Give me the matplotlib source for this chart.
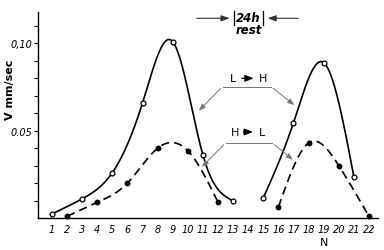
import numpy as np
import matplotlib
matplotlib.use("Agg")
import matplotlib.pyplot as plt

# Data
lh_n1 = [1, 3, 5, 7, 9, 11, 13]
lh_v1 = [0.0023, 0.011, 0.026, 0.066, 0.101, 0.036, 0.0098]
lh_n2 = [15, 17, 19, 21]
lh_v2 = [0.0115, 0.0546, 0.089, 0.0236]
hl_n1 = [2, 4, 6, 8, 10, 12]
hl_v1 = [0.001, 0.009, 0.020, 0.040, 0.0385, 0.009]
hl_n2 = [16, 18, 20, 22]
hl_v2 = [0.0063, 0.043, 0.030, 0.001]
x_ticks = list(range(1, 23))
y_ticks = [0.01, 0.02, 0.03, 0.04, 0.05, 0.06, 0.07, 0.08, 0.09, 0.10, 0.11]
y_labels = {0.05: "0.05", 0.10: "0,10"}


def natural_spline(x, y, num=200):
    x = np.asarray(x, float)
    y = np.asarray(y, float)
    n = len(x)
    h = np.diff(x)
    A = np.zeros((n, n))
    b = np.zeros(n)
    A[0, 0] = 1
    A[-1, -1] = 1
    for i in range(1, n - 1):
        A[i, i - 1] = h[i - 1]
        A[i, i] = 2 * (h[i - 1] + h[i])
        A[i, i + 1] = h[i]
        b[i] = 3 * ((y[i + 1] - y[i]) / h[i] - (y[i] - y[i - 1]) / h[i - 1])
    c = np.linalg.solve(A, b)
    xs = np.linspace(x[0], x[-1], num)
    idx = np.clip(np.searchsorted(x, xs) - 1, 0, n - 2)
    dx = xs - x[idx]
    bb = (y[idx + 1] - y[idx]) / h[idx] - h[idx] * (2 * c[idx] + c[idx + 1]) / 3
    dd = (c[idx + 1] - c[idx]) / (3 * h[idx])
    ys = y[idx] + bb * dx + c[idx] * dx ** 2 + dd * dx ** 3
    return xs, ys


fig = plt.figure(figsize=(3.84, 2.51), dpi=100)
ax = fig.add_axes([38 / 384, 32 / 251, 340 / 384, 206 / 251])
ax.set_xlim(0.07, 22.6)
ax.set_ylim(0, 0.118)

for n, v in [(lh_n1, lh_v1), (lh_n2, lh_v2)]:
    xs, ys = natural_spline(n, v)
    ax.plot(xs, ys, color="black", lw=1.2, solid_capstyle="round", clip_on=False)
    ax.plot(n, v, "o", ms=3.5, mfc="white", mec="black", mew=0.9, clip_on=False, zorder=3)
for n, v in [(hl_n1, hl_v1), (hl_n2, hl_v2)]:
    xs, ys = natural_spline(n, v)
    ax.plot(xs, ys, color="black", lw=1.2, ls=(0, (5, 3)), clip_on=False)
    ax.plot(n, v, "o", ms=3.2, color="black", clip_on=False, zorder=3)

ax.spines["top"].set_visible(False)
ax.spines["right"].set_visible(False)
ax.spines["left"].set_linewidth(1.0)
ax.spines["bottom"].set_linewidth(1.0)

ax.set_xticks(x_ticks)
ax.set_xticklabels([str(t) for t in x_ticks], fontstyle="italic", fontsize=7)
ax.tick_params(axis="x", length=0, pad=4)
ax.set_yticks(y_ticks)
ax.set_yticklabels([y_labels.get(round(t, 2), "") for t in y_ticks],
                   fontstyle="italic", fontsize=7)
ax.tick_params(axis="y", length=3, width=0.8, pad=1)

ax.text(19.0, -0.0137, "N", ha="center", va="center", fontsize=8)
fig.text(10 / 384, 1 - 90 / 251, "V mm/sec", rotation=90, ha="center", va="center",
         fontsize=8, fontweight="bold")

# annotations
gray = "#777777"
ax.text(13.0, 0.0800, "L", ha="center", va="center", fontsize=8)
ax.text(15.0, 0.0800, "H", ha="center", va="center", fontsize=8)
ax.annotate("", xy=(14.55, 0.0800), xytext=(13.4, 0.0800),
            arrowprops=dict(arrowstyle="-|>,head_length=0.5,head_width=0.2", color="black", lw=1.0))
ax.plot([12.3, 15.5], [0.0753, 0.0753], color=gray, lw=0.7)
ax.annotate("", xy=(10.6, 0.0603), xytext=(12.3, 0.0753),
            arrowprops=dict(arrowstyle="-|>,head_length=0.4,head_width=0.15", color=gray, lw=0.7))
ax.annotate("", xy=(17.2, 0.0637), xytext=(15.5, 0.0753),
            arrowprops=dict(arrowstyle="-|>,head_length=0.4,head_width=0.15", color=gray, lw=0.7))

ax.text(13.1, 0.0493, "H", ha="center", va="center", fontsize=8)
ax.text(14.9, 0.0493, "L", ha="center", va="center", fontsize=8)
ax.annotate("", xy=(14.5, 0.0493), xytext=(13.5, 0.0493),
            arrowprops=dict(arrowstyle="-|>,head_length=0.5,head_width=0.2", color="black", lw=1.0))
ax.plot([12.5, 15.6], [0.0430, 0.0430], color=gray, lw=0.7)
ax.annotate("", xy=(10.8, 0.0282), xytext=(12.5, 0.0430),
            arrowprops=dict(arrowstyle="-|>,head_length=0.4,head_width=0.15", color=gray, lw=0.7))
ax.annotate("", xy=(17.1, 0.0323), xytext=(15.6, 0.0430),
            arrowprops=dict(arrowstyle="-|>,head_length=0.4,head_width=0.15", color=gray, lw=0.7))

# 24h rest
yr = 0.1144
ax.plot([13.05, 13.05], [0.1105, 0.1185], color="black", lw=0.9, clip_on=False)
ax.plot([15.0, 15.0], [0.1105, 0.1185], color="black", lw=0.9, clip_on=False)
ax.annotate("", xy=(12.95, yr), xytext=(10.4, yr),
            arrowprops=dict(arrowstyle="-|>,head_length=0.5,head_width=0.18", color="#333333", lw=0.8),
            annotation_clip=False)
ax.annotate("", xy=(15.1, yr), xytext=(17.5, yr),
            arrowprops=dict(arrowstyle="-|>,head_length=0.5,head_width=0.18", color="#333333", lw=0.8),
            annotation_clip=False)
ax.text(14.02, 0.1150, "24h", ha="center", va="center", fontsize=8.5, fontstyle="italic", fontweight="bold")
ax.text(14.02, 0.1078, "rest", ha="center", va="center", fontsize=8.5, fontstyle="italic", fontweight="bold")

fig.savefig("out.png", dpi=100)
